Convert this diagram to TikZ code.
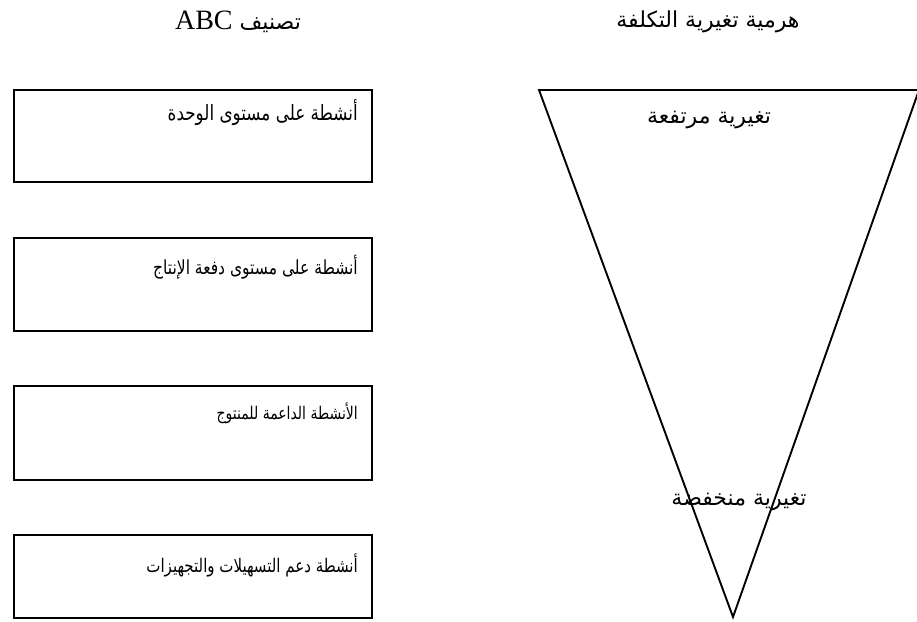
\documentclass[tikz,border=0pt]{standalone}
\usepackage{fontspec}
\usepackage{graphicx}
\setmainfont{Liberation Serif}
\newfontfamily\arabicfont[Script=Arabic]{DejaVu Sans}
\TeXXeTstate=1
\newcommand{\narrowbox}[1]{\scalebox{0.8}[1]{#1}}
\begin{document}
\begin{tikzpicture}[x=1pt,y=-1pt,
  boxstyle/.style={draw=black, line width=2.1pt, inner sep=0pt},
  linestyle/.style={draw=black, line width=1.9pt},
  boxtext/.style={anchor=east, inner sep=0pt},
  titletext/.style={inner sep=0pt, font=\arabicfont\fontsize{22}{26}\selectfont}]
\useasboundingbox (0,0) rectangle (917,621);
% titles
\node[titletext] (t1) at (238,22) {\beginR تصنيف \beginL{\rmfamily\fontsize{28}{30}\selectfont ABC}\endL\endR};
\node[titletext] (t2) at (708,22) {\beginR هرمية تغيرية التكلفة\endR};
% boxes
\draw[boxstyle] (14,90) rectangle (372,182);
\draw[boxstyle] (14,238) rectangle (372,331);
\draw[boxstyle] (14,386) rectangle (372,480);
\draw[boxstyle] (14,535) rectangle (372,618);
\node[boxtext, font=\arabicfont\fontsize{21}{21}\selectfont] (b1) at (358,113) {\narrowbox{\beginR أنشطة على مستوى الوحدة\endR}};
\node[boxtext, font=\arabicfont\fontsize{19.4}{19.4}\selectfont] (b2) at (358,267) {\narrowbox{\beginR أنشطة على مستوى دفعة الإنتاج\endR}};
\node[boxtext, font=\arabicfont\fontsize{17.5}{17.5}\selectfont] (b3) at (358,413) {\narrowbox{\beginR الأنشطة الداعمة للمنتوج\endR}};
\node[boxtext, font=\arabicfont\fontsize{18.75}{18.75}\selectfont] (b4) at (358,565) {\narrowbox{\beginR أنشطة دعم التسهيلات والتجهيزات\endR}};
% triangle
\coordinate (tl) at (539,90);
\coordinate (tr) at (919,90);
\coordinate (bv) at (733,617);
\draw[linestyle, line join=miter] (tl) -- (tr) -- (bv) -- cycle;
\node[titletext] (hi) at (709,120) {\beginR تغيرية  مرتفعة\endR};
\node[titletext] (lo) at (739,502) {\beginR تغيرية  منخفضة\endR};
\end{tikzpicture}
\end{document}
